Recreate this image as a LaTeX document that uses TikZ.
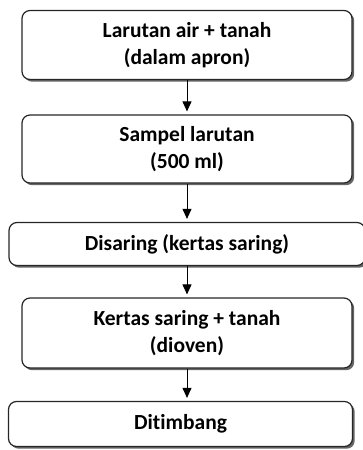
\documentclass[tikz,border=0pt]{standalone}
\usepackage{fontspec}
\setmainfont[Ligatures=NoCommon]{Carlito}
\usetikzlibrary{arrows.meta,shadows}

\tikzset{
  langkah/.style={draw=black!85, line width=1.2pt, rounded corners=8pt, fill=white,
    align=center, font=\bfseries\fontsize{21.5}{27}\selectfont,
    drop shadow={shadow xshift=2.2pt, shadow yshift=-2.2pt, fill=black!60, opacity=1}},
  panah/.style={line width=1pt, -{Triangle[width=9pt,length=10pt]}, shorten >=3pt}
}

\begin{document}
\begin{tikzpicture}[x=1pt,y=-1pt]
  \useasboundingbox (0,0) rectangle (362,450);

  \node[name=a, langkah, minimum width=330pt, minimum height=69pt] at (187,45) {Larutan air + tanah\\(dalam apron)};
  \node[name=b, langkah, minimum width=330pt, minimum height=68pt] at (187,149) {Sampel larutan\\(500 ml)};
  \node[name=c, langkah, minimum width=356pt, minimum height=43pt] at (187,244) {Disaring (kertas saring)};
  \node[name=d, langkah, minimum width=330pt, minimum height=70pt] at (187,333) {Kertas saring + tanah\\(dioven)};
  \node[name=e, langkah, minimum width=344pt, minimum height=45pt] at (180.5,424) {Ditimbang};

  \draw[panah] (a.south) -- (a.south |- b.north);
  \draw[panah] (b.south) -- (b.south |- c.north);
  \draw[panah] (c.south) -- (c.south |- d.north);
  \draw[panah] (d.south) -- (d.south |- e.north);

\end{tikzpicture}
\end{document}
